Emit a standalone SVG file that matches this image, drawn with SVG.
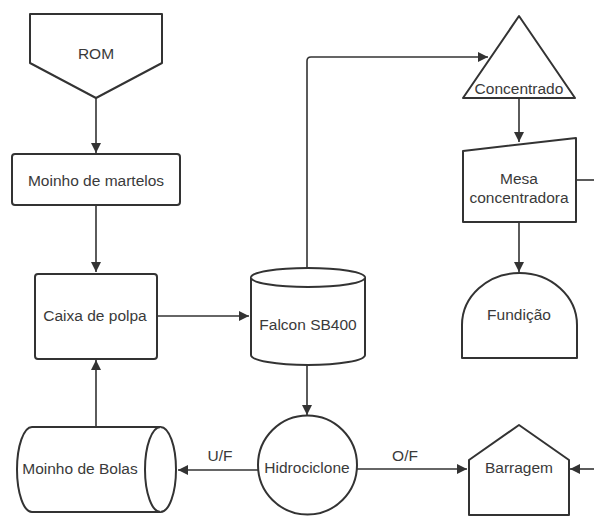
<svg xmlns="http://www.w3.org/2000/svg" width="594" height="516" viewBox="0 0 594 516">
<defs>
<marker id="ah" viewBox="0 0 10 10" refX="10" refY="5" markerWidth="10" markerHeight="10" markerUnits="userSpaceOnUse" orient="auto">
<path d="M0,0 L10,5 L0,10 z" fill="#333"/>
</marker>
<style>
.s{fill:#fff;stroke:#333;stroke-width:2;stroke-linejoin:round}
.c{fill:none;stroke:#333;stroke-width:1.6}
.t{font-family:"Liberation Sans",Arial,sans-serif;font-size:15.5px;fill:#3a3a3a;text-anchor:middle;dominant-baseline:central}
</style>
</defs>
<rect width="594" height="516" fill="#fff"/>
<g id="connectors">
<path class="c" d="M96,98 V153" marker-end="url(#ah)"/>
<path class="c" d="M96,205 V272" marker-end="url(#ah)"/>
<path class="c" d="M157,316 H249" marker-end="url(#ah)"/>
<path class="c" d="M307,268 V61 Q307,57 311,57 H488" marker-end="url(#ah)"/>
<path class="c" d="M519,98 V142" marker-end="url(#ah)"/>
<path class="c" d="M576,180 H594"/>
<path class="c" d="M519,222 V272" marker-end="url(#ah)"/>
<path class="c" d="M307,366 V415" marker-end="url(#ah)"/>
<path class="c" d="M258,470 H178" marker-end="url(#ah)"/>
<path class="c" d="M96,427 V360" marker-end="url(#ah)"/>
<path class="c" d="M357,469 H467" marker-end="url(#ah)"/>
<path class="c" d="M594,469 H570" marker-end="url(#ah)"/>
<text class="t" x="220" y="455">U/F</text>
<text class="t" x="405" y="455">O/F</text>
</g>
<g id="rom">
<path class="s" d="M30,14 H162 V63 L96,98 L30,63 Z"/>
<text class="t" x="96" y="53">ROM</text>
</g>
<g id="moinho-martelos">
<rect class="s" x="12" y="154" width="168" height="51" rx="3"/>
<text class="t" x="96" y="180">Moinho de martelos</text>
</g>
<g id="caixa-polpa">
<rect class="s" x="35" y="274" width="122" height="85" rx="3"/>
<text class="t" x="95" y="315">Caixa de polpa</text>
</g>
<g id="falcon">
<path class="s" d="M251,277.5 A57,9.5 0 0 1 365,277.5 V355 A57,10 0 0 1 251,355 Z"/>
<path class="s" d="M251,277.5 A57,9.5 0 0 0 365,277.5" fill="none"/>
<text class="t" x="308" y="324">Falcon SB400</text>
</g>
<g id="concentrado">
<path class="s" d="M519,16 L575,98 H463 Z"/>
<text class="t" x="519" y="88">Concentrado</text>
</g>
<g id="mesa">
<path class="s" d="M463,151 L576,138 V222 H463 Z"/>
<text class="t" x="519" y="178">Mesa</text>
<text class="t" x="519" y="197">concentradora</text>
</g>
<g id="fundicao">
<path class="s" d="M462,358 V325 A57.5,52 0 0 1 577,325 V358 Z"/>
<text class="t" x="519" y="314">Fundição</text>
</g>
<g id="hidrociclone">
<circle class="s" cx="307.5" cy="465" r="49.5"/>
<text class="t" x="307" y="467">Hidrociclone</text>
</g>
<g id="moinho-bolas">
<path class="s" d="M32,427 H160.5 A15.5,42.5 0 0 1 160.5,512 H32 A15,42.5 0 0 1 32,427 Z"/>
<path class="s" d="M160.5,427 A15.5,42.5 0 0 0 160.5,512" fill="none"/>
<text class="t" x="80" y="468">Moinho de Bolas</text>
</g>
<g id="barragem">
<path class="s" d="M469,460 L519,425 L569,460 V515 H469 Z"/>
<text class="t" x="519" y="467">Barragem</text>
</g>
</svg>
